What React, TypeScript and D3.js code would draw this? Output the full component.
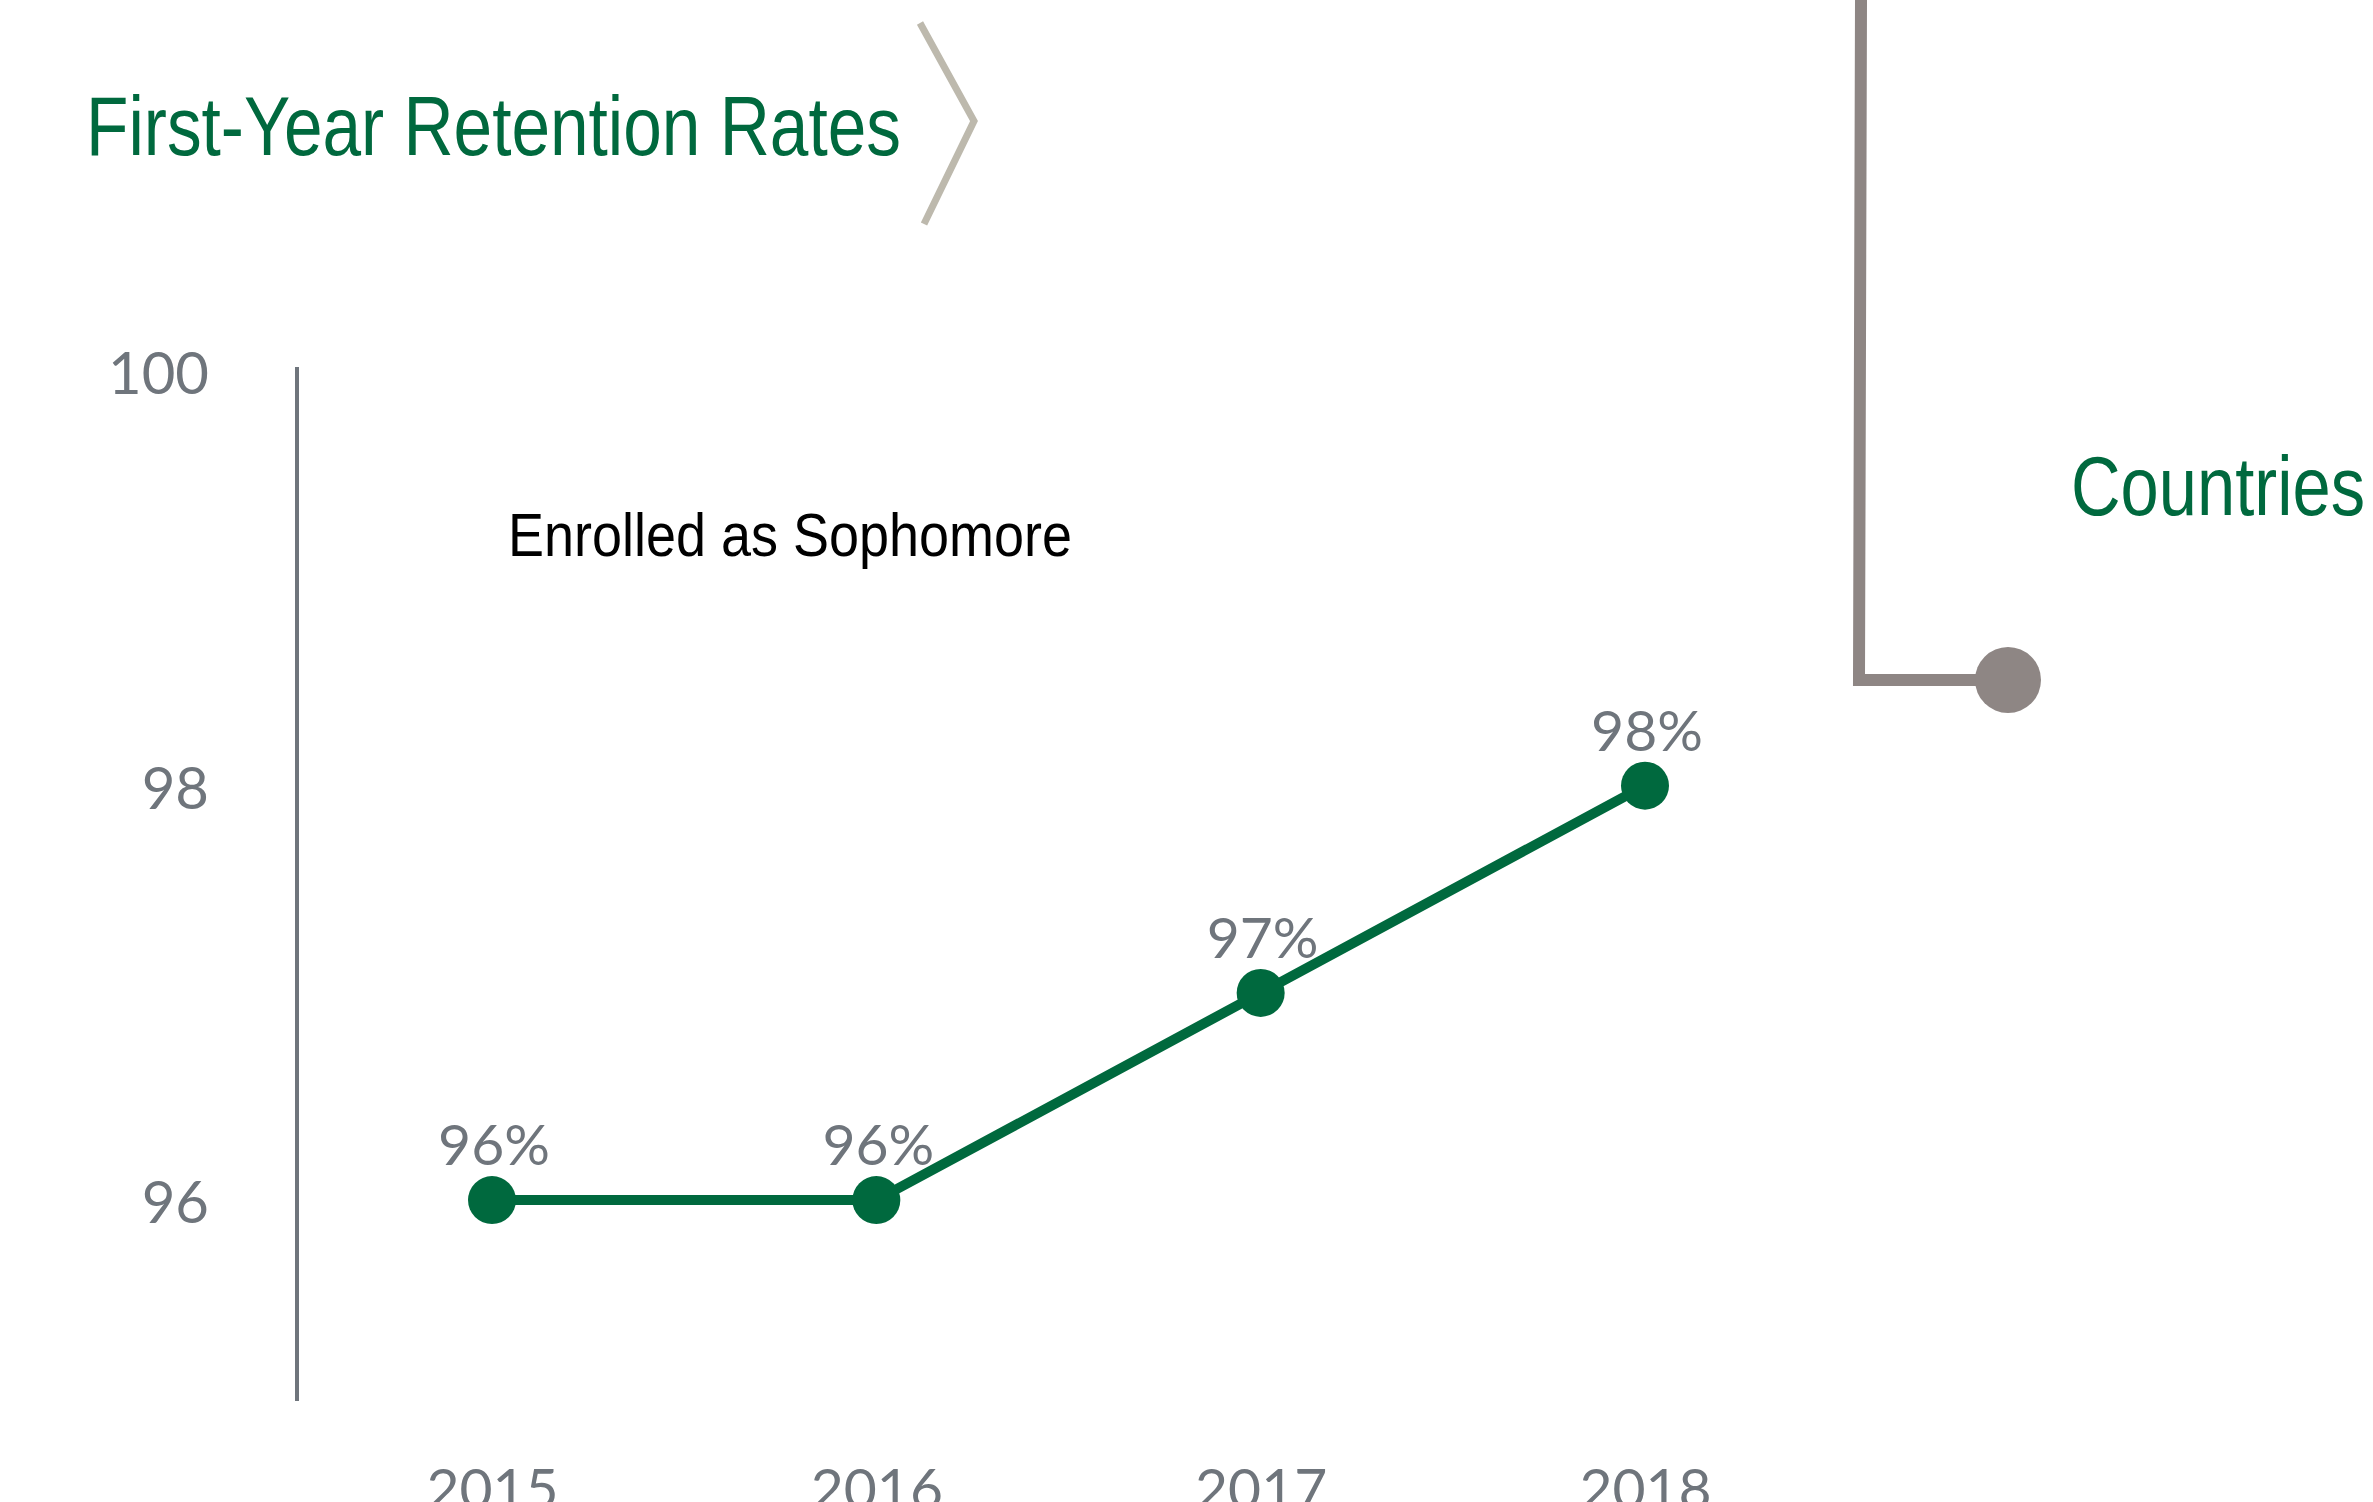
import * as React from "react";
import * as d3 from "d3";

const years = ["2015", "2016", "2017", "2018"];
const retention = [96, 96, 97, 98];
const yTicks = [96, 98, 100];

const GREEN = "#00693e";
const GREY = "#6f757c";
const SANS = "'Liberation Sans', Arial, sans-serif";

function drawChart(svgRef: React.RefObject<SVGSVGElement>) {
  const w = 2373;
  const h = 1502;
  const svg = d3.select(svgRef.current);
  svg.selectAll("*").remove();
  svg.attr("width", w).attr("height", h).style("background", "#fff");

  // scales
  const xScale = d3.scalePoint().domain(years).range([492, 1645]);
  const yScale = d3.scaleLinear().domain([95.05, 100.02]).range([1397, 367]);

  // title + chevron (narrow face squeezed from Liberation Sans)
  svg
    .append("text")
    .attr("x", 86)
    .attr("y", 155)
    .attr("fill", GREEN)
    .attr("textLength", 815)
    .attr("lengthAdjust", "spacingAndGlyphs")
    .style("font-family", SANS)
    .style("font-size", "83px")
    .text("First-Year Retention Rates");

  svg
    .append("path")
    .attr("d", "M920,23 L974,121 L924,224")
    .attr("fill", "none")
    .attr("stroke", "#bdb9ad")
    .attr("stroke-width", 7);

  // y axis
  const yAxis = d3
    .axisLeft(yScale)
    .tickValues(yTicks)
    .tickFormat(d3.format("d"))
    .tickSize(0)
    .tickPadding(88);
  const gy = svg.append("g").attr("transform", "translate(297,4)").call(yAxis);
  gy.select(".domain").remove();
  gy.selectAll("text")
    .attr("fill", GREY)
    .style("font-family", "Lato, sans-serif")
    .style("font-size", "58px");
  svg
    .append("line")
    .attr("x1", 297)
    .attr("x2", 297)
    .attr("y1", yScale.range()[1])
    .attr("y2", yScale.range()[0] + 4)
    .attr("stroke", GREY)
    .attr("stroke-width", 4);

  // x axis labels (cut at bottom edge, as in the original)
  const xAxis = d3.axisBottom(xScale).tickSize(0).tickPadding(0);
  const gx = svg.append("g").attr("transform", "translate(0,1469)").call(xAxis);
  gx.select(".domain").remove();
  gx.selectAll("text")
    .attr("fill", GREY)
    .style("font-family", "Lato, sans-serif")
    .style("font-size", "57px");

  // series caption
  svg
    .append("text")
    .attr("x", 508)
    .attr("y", 556)
    .attr("fill", "#000")
    .attr("textLength", 564)
    .attr("lengthAdjust", "spacingAndGlyphs")
    .style("font-family", SANS)
    .style("font-size", "62px")
    .text("Enrolled as Sophomore");

  // line
  const line = d3
    .line<number>()
    .x((d, i) => xScale(years[i])!)
    .y((d) => yScale(d));
  svg
    .append("path")
    .datum(retention)
    .attr("d", line)
    .attr("fill", "none")
    .attr("stroke", GREEN)
    .attr("stroke-width", 10);

  svg
    .selectAll(".dot")
    .data(retention)
    .join("circle")
    .attr("cx", (d, i) => xScale(years[i])!)
    .attr("cy", (d) => yScale(d))
    .attr("r", 24)
    .attr("fill", GREEN);

  svg
    .selectAll(".lbl")
    .data(retention)
    .join("text")
    .attr("x", (d, i) => xScale(years[i])! + 2)
    .attr("y", (d) => yScale(d) - 35)
    .attr("text-anchor", "middle")
    .attr("fill", GREY)
    .style("font-family", "Lato, sans-serif")
    .style("font-size", "57px")
    .text((d) => `${d}%`);

  // right-hand connector to "Countries"
  svg
    .append("path")
    .attr("d", "M1861,0 L1859,680 L2008,680")
    .attr("fill", "none")
    .attr("stroke", "#8e8684")
    .attr("stroke-width", 12);
  svg.append("circle").attr("cx", 2008).attr("cy", 680).attr("r", 33).attr("fill", "#8e8684");

  svg
    .append("text")
    .attr("x", 2071)
    .attr("y", 515)
    .attr("fill", GREEN)
    .attr("textLength", 294)
    .attr("lengthAdjust", "spacingAndGlyphs")
    .style("font-family", SANS)
    .style("font-size", "83px")
    .text("Countries");
}

const App: React.FunctionComponent = () => {
  const svg = React.useRef<SVGSVGElement>(null);
  React.useEffect(() => {
    drawChart(svg);
  }, [svg]);

  return (
    <div style={{ position: "absolute", left: 0, top: 0 }}>
      <svg ref={svg} style={{ display: "block" }} />
    </div>
  );
};

export default App;
